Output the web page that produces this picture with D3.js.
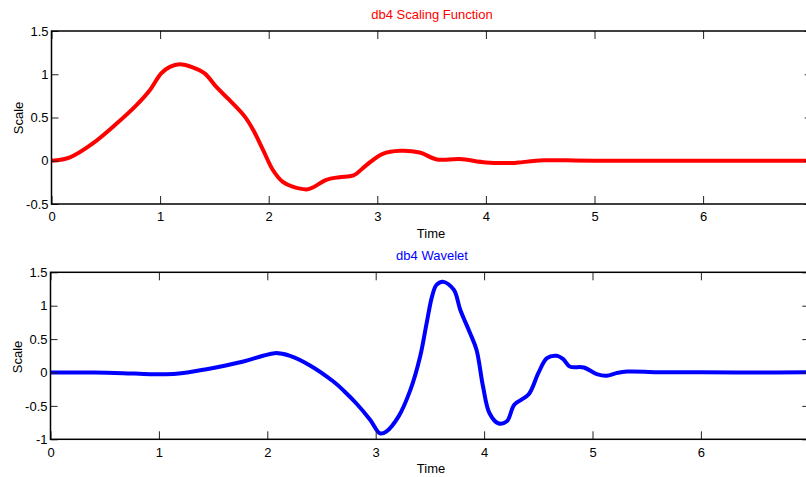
<!DOCTYPE html>
<html><head><meta charset="utf-8">
<script src="https://cdn.jsdelivr.net/npm/d3@7"></script>
<style>body{margin:0;background:#fff;} text{font-family:"Liberation Sans",Arial,sans-serif;}</style>
</head><body>
<svg id="c" width="806" height="477"></svg>
<script>
// Scaling function (time, value)
const scalingT = [0,0.17,0.38,0.6,0.78,0.905,1.01,1.09,1.18,1.30,1.41,1.52,1.64,1.78,1.86,1.95,2.04,2.13,2.22,2.36,2.42,2.53,2.65,2.78,2.90,3.05,3.21,3.39,3.55,3.76,4.0,4.25,4.30,4.53,4.75,5.0,5.5,6.0,6.5,7.0];
const scalingV = [0,0.04,0.2,0.43,0.64,0.815,1.01,1.085,1.115,1.08,1.01,0.85,0.70,0.51,0.35,0.12,-0.11,-0.245,-0.30,-0.33,-0.30,-0.22,-0.19,-0.17,-0.05,0.08,0.115,0.095,0.015,0.02,-0.02,-0.025,-0.02,0.005,0.005,0,0,0,0,0];
// Wavelet (time, value)
const waveletT = [0,0.4,0.67,0.92,1.16,1.44,1.78,1.96,2.07,2.21,2.39,2.61,2.71,2.82,2.95,3.04,3.10,3.21,3.32,3.41,3.47,3.52,3.56,3.62,3.72,3.78,3.87,3.93,3.99,4.05,4.13,4.21,4.28,4.41,4.50,4.58,4.67,4.73,4.79,4.92,5.04,5.13,5.22,5.32,5.6,6.0,6.5,7.0];
const waveletV = [0,0,-0.01,-0.025,-0.02,0.05,0.165,0.25,0.29,0.25,0.11,-0.135,-0.28,-0.46,-0.71,-0.91,-0.88,-0.66,-0.26,0.24,0.74,1.14,1.31,1.36,1.24,0.94,0.59,0.34,-0.21,-0.61,-0.76,-0.73,-0.48,-0.33,-0.01,0.215,0.25,0.2,0.09,0.075,-0.025,-0.05,-0.01,0.015,0.005,0.005,0.0,0.005];
const xTicks = [0,1,2,3,4,5,6];
const yTicksTop = [-0.5,0,0.5,1,1.5];
const yTicksBot = [-1,-0.5,0,0.5,1,1.5];

const svg = d3.select("#c");
svg.append("rect").attr("width",806).attr("height",477).attr("fill","#fff");

function panel(o){
  const x = d3.scaleLinear().domain([0,7]).range([o.left,o.right]);
  const y = d3.scaleLinear().domain(o.ydom).range([o.bottom,o.top]);
  const g = svg.append("g");
  const cid = "clip"+o.id;
  svg.append("clipPath").attr("id",cid).append("rect")
    .attr("x",o.left).attr("y",o.top).attr("width",o.right-o.left).attr("height",o.bottom-o.top);
  const data = o.t.map((t,i)=>[t,o.v[i]]);
  const line = d3.line().x(d=>x(d[0])).y(d=>y(d[1])).curve(d3.curveCatmullRom.alpha(0.5));
  g.append("path").attr("d",line(data)).attr("fill","none").attr("stroke",o.color)
    .attr("stroke-width",4).attr("stroke-linejoin","round").attr("stroke-linecap","round")
    .attr("clip-path","url(#"+cid+")");
  const fmt = d=>String(d);
  const gb = g.append("g").attr("transform",`translate(0,${o.bottom})`)
    .call(d3.axisBottom(x).tickValues(xTicks).tickSizeInner(-8).tickSizeOuter(0).tickPadding(8).tickFormat(fmt));
  gb.select(".domain").remove();
  const gt = g.append("g").attr("transform",`translate(0,${o.top})`)
    .call(d3.axisTop(x).tickValues(xTicks).tickSizeInner(-8).tickSizeOuter(0).tickFormat(""));
  gt.select(".domain").remove();
  const gl = g.append("g").attr("transform",`translate(${o.left},0)`)
    .call(d3.axisLeft(y).tickValues(o.yticks).tickSizeInner(-7).tickSizeOuter(0).tickPadding(3).tickFormat(fmt));
  gl.select(".domain").remove();
  const gr = g.append("g").attr("transform",`translate(${o.right},0)`)
    .call(d3.axisRight(y).tickValues(o.yticks).tickSizeInner(-7).tickSizeOuter(0).tickFormat(""));
  gr.select(".domain").remove();
  g.selectAll(".tick text").attr("font-size",13).attr("fill","#000").attr("font-family","Liberation Sans, Arial, sans-serif");
  g.selectAll(".tick line").attr("stroke","#222");
  g.append("rect").attr("x",o.left).attr("y",o.top).attr("width",o.right-o.left).attr("height",o.bottom-o.top)
    .attr("fill","none").attr("stroke","#000").attr("stroke-width",1.5);
  svg.append("text").attr("x",432).attr("y",o.titleY).attr("text-anchor","middle").attr("font-size",13)
    .attr("fill",o.color).text(o.title);
  svg.append("text").attr("x",431).attr("y",o.xlabY).attr("text-anchor","middle").attr("font-size",13)
    .attr("fill","#000").text("Time");
  svg.append("text").attr("transform",`translate(${o.ylabX},${o.ylabY}) rotate(-90)`).attr("text-anchor","middle")
    .attr("font-size",13).attr("fill","#000").text("Scale");
}

panel({id:1,left:51.5,right:811.7,top:31,bottom:204,ydom:[-0.5,1.5],yticks:yTicksTop,t:scalingT,v:scalingV,
  color:"#ff0000",title:"db4 Scaling Function",titleY:19,xlabY:238,ylabX:23,ylabY:118});
panel({id:2,left:50.5,right:809.3,top:272.3,bottom:439.3,ydom:[-1,1.5],yticks:yTicksBot,t:waveletT,v:waveletV,
  color:"#0000ff",title:"db4 Wavelet",titleY:260,xlabY:473,ylabX:22,ylabY:357});
</script>
</body></html>
